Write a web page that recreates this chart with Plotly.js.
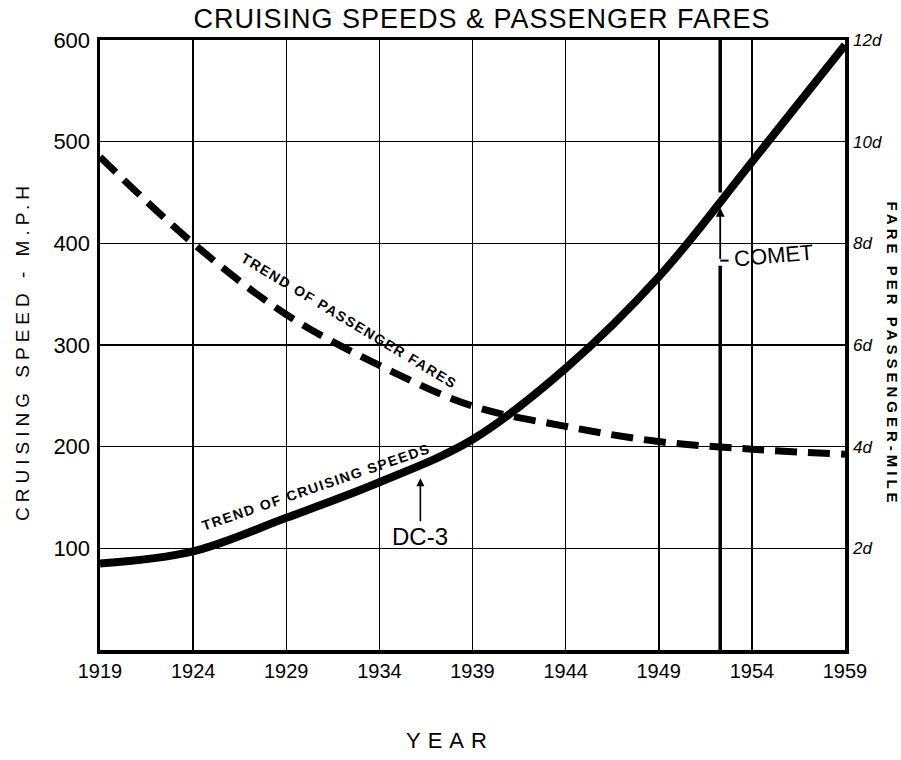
<!DOCTYPE html>
<html>
<head>
<meta charset="utf-8">
<script src="https://cdn.plot.ly/plotly-3.0.1.min.js"></script>
<style>
  html, body { margin: 0; padding: 0; background: #ffffff; }
  #chart { width: 901px; height: 760px; }
</style>
</head>
<body>
<div id="chart"></div>
<script>
// ---- data ----
const years = [1919, 1924, 1929, 1934, 1939, 1944, 1949, 1954, 1959];
const cruisingSpeedMph = [85, 97, 130, 165, 207, 277, 367, 480, 595];
const farePence = [9.7, 8.0, 6.6, 5.6, 4.8, 4.4, 4.1, 3.95, 3.85];

const speedTicks = [100, 200, 300, 400, 500, 600];
const fareTicks = [2, 4, 6, 8, 10, 12];
const fareTickText = ['2d', '4d', '6d', '8d', '10d', '12d'];
const yearTicks = [1919, 1924, 1929, 1934, 1939, 1944, 1949, 1954, 1959];

// aircraft milestones: [year, speed (mph) at the curve]
const dc3 = [1936.2, 175];
const comet = [1952.3, 443];
// where the comet marker line is broken for its label (mph)
const cometGap = [378, 450];

const FONT = 'Liberation Sans, Arial, sans-serif';

const traces = [
  {
    x: years, y: cruisingSpeedMph, type: 'scatter', mode: 'lines',
    line: {color: '#000', width: 8, shape: 'spline', smoothing: 1},
    hoverinfo: 'skip', showlegend: false
  },
  {
    x: years, y: farePence, type: 'scatter', mode: 'lines', yaxis: 'y2',
    line: {color: '#000', width: 7, shape: 'spline', smoothing: 1, dash: '22px,11px'},
    hoverinfo: 'skip', showlegend: false
  },
  {
    // Comet marker line (broken around its label)
    x: [comet[0], comet[0], null, comet[0], comet[0]],
    y: [0, cometGap[0], null, cometGap[1], 600],
    type: 'scatter', mode: 'lines',
    line: {color: '#000', width: 3.5},
    hoverinfo: 'skip', showlegend: false
  },
  {
    // L-shaped stem of the Comet label
    x: [comet[0], comet[0] + 0.45],
    y: [cometGap[0] + 5, cometGap[0] + 5],
    type: 'scatter', mode: 'lines',
    line: {color: '#000', width: 2},
    hoverinfo: 'skip', showlegend: false
  }
];

const layout = {
  width: 901, height: 760,
  margin: {l: 100, r: 56, t: 40, b: 110},
  paper_bgcolor: '#ffffff', plot_bgcolor: '#ffffff',
  font: {family: FONT, color: '#000'},
  title: {
    text: 'CRUISING SPEEDS & PASSENGER FARES',
    font: {family: FONT, size: 27, color: '#000'},
    x: 0.535, xanchor: 'center', y: 0.975, yanchor: 'middle'
  },
  xaxis: {
    range: [1919, 1959], tickvals: yearTicks, ticktext: yearTicks.map(String),
    showgrid: true, gridcolor: '#000', gridwidth: 1.5,
    showline: true, linecolor: '#000', linewidth: 3.5, mirror: true,
    zeroline: false, ticks: '', tickfont: {size: 20, family: FONT},
    fixedrange: true
  },
  yaxis: {
    range: [0, 600], tickvals: speedTicks,
    showgrid: true, gridcolor: '#000', gridwidth: 1.5,
    showline: true, linecolor: '#000', linewidth: 3.5, mirror: true,
    zeroline: false, ticks: '', tickfont: {size: 22, family: FONT},
    ticklabelstandoff: 2,
    fixedrange: true
  },
  yaxis2: {
    range: [0, 12], overlaying: 'y', side: 'right',
    tickvals: fareTicks, ticktext: fareTickText,
    showgrid: false, zeroline: false, showline: false, ticks: '',
    tickfont: {size: 17, family: FONT, style: 'italic'},
    ticklabelstandoff: 7,
    fixedrange: true
  },
  annotations: [
    {
      xref: 'paper', yref: 'paper', x: -0.105, y: 0.49,
      text: 'CRUISING SPEED - M.P.H', textangle: -90, showarrow: false,
      font: {size: 19, family: FONT}, xanchor: 'center', yanchor: 'middle'
    },
    {
      xref: 'paper', yref: 'paper', x: 1.064, y: 0.485,
      text: 'FARE PER PASSENGER-MILE', textangle: 90, showarrow: false,
      font: {size: 15, family: FONT, weight: 'bold'}, xanchor: 'center', yanchor: 'middle'
    },
    {
      xref: 'paper', yref: 'paper', x: 0.47, y: -0.148,
      text: 'YEAR', showarrow: false,
      font: {size: 22, family: FONT}, xanchor: 'center', yanchor: 'middle'
    },
    {
      xref: 'x', yref: 'y', x: 1930.6, y: 160,
      text: 'TREND OF CRUISING SPEEDS', textangle: -19, showarrow: false,
      font: {size: 14, family: FONT, weight: 'bold'}
    },
    {
      xref: 'x', yref: 'y', x: 1932.4, y: 324,
      text: 'TREND OF PASSENGER FARES', textangle: 31, showarrow: false,
      font: {size: 14, family: FONT, weight: 'bold'}
    },
    {
      xref: 'x', yref: 'y', x: dc3[0], y: dc3[1] - 6,
      text: 'DC-3', showarrow: true, ax: 0, ay: 58,
      arrowhead: 2, arrowsize: 1, arrowwidth: 1.6, arrowcolor: '#000',
      font: {size: 24, family: FONT}
    },
    {
      xref: 'x', yref: 'y', x: comet[0], y: comet[1] - 8,
      axref: 'x', ayref: 'y', ax: comet[0], ay: cometGap[0] + 5,
      text: '', showarrow: true,
      arrowhead: 2, arrowsize: 1, arrowwidth: 1.8, arrowcolor: '#000'
    },
    {
      xref: 'x', yref: 'y', x: comet[0] + 0.6, y: cometGap[0] + 10,
      text: 'COMET', showarrow: false, xanchor: 'left', yanchor: 'middle',
      textangle: -5,
      font: {size: 22, family: FONT}
    }
  ]
};

Plotly.newPlot('chart', traces, layout, {staticPlot: true, displayModeBar: false}).then(function () {
  const spacing = {
    'CRUISING SPEED - M.P.H': '5px',
    'FARE PER PASSENGER-MILE': '4px',
    'YEAR': '7px',
    'TREND OF CRUISING SPEEDS': '1.5px',
    'TREND OF PASSENGER FARES': '1.5px',
    'CRUISING SPEEDS & PASSENGER FARES': '1px'
  };
  document.querySelectorAll('#chart text').forEach(function (t) {
    const s = spacing[t.textContent];
    if (s) t.style.letterSpacing = s;
  });
});
</script>
</body>
</html>
